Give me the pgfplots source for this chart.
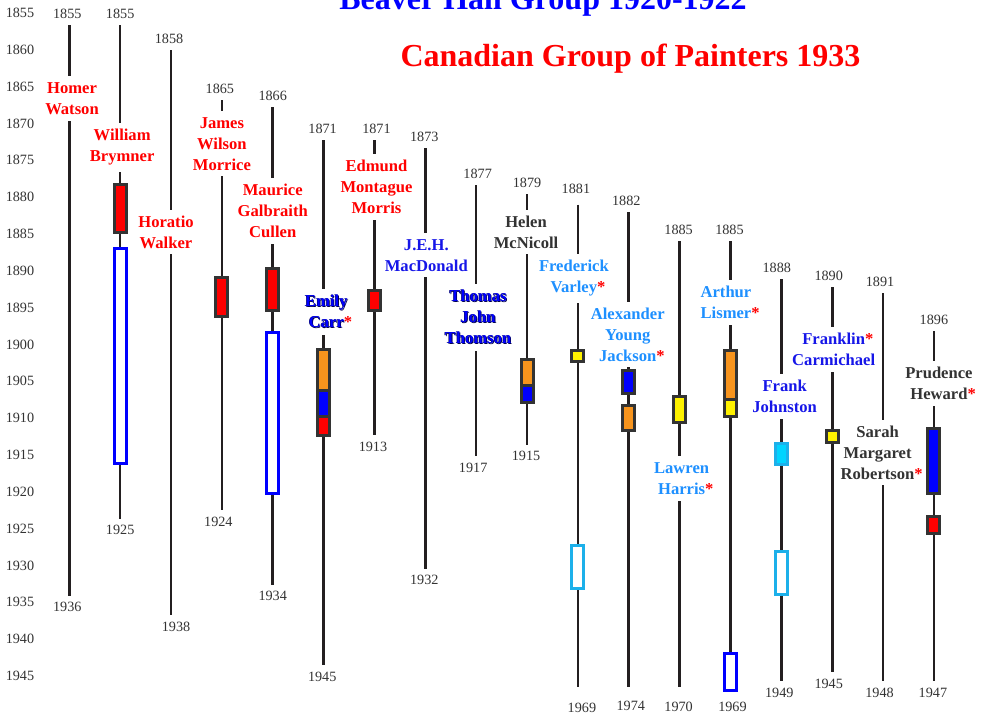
\documentclass[border=0pt]{standalone}
\usepackage{fontspec}
\setmainfont{Liberation Serif}
\usepackage{pgfplots}
\pgfplotsset{compat=1.18}

\definecolor{linecol}{HTML}{231F20}
\definecolor{boxline}{HTML}{333333}
\definecolor{cred}{HTML}{FF0000}
\definecolor{corange}{HTML}{F7941D}
\definecolor{cyellow}{HTML}{FFF200}
\definecolor{cblue}{HTML}{0000FF}
\definecolor{ccyan}{HTML}{1CB0EA}
\definecolor{cyanfill}{HTML}{00D4FF}
\definecolor{ltblue}{HTML}{1E90FF}
\definecolor{nameblue}{HTML}{1616E8}
\definecolor{namegray}{HTML}{333333}
\definecolor{navy}{HTML}{000050}
\definecolor{yeargray}{HTML}{333333}

\newcommand{\yearfont}{\fontsize{14.2}{16}\selectfont}
\newcommand{\namefont}{\fontsize{16.6}{21}\selectfont\bfseries}
\newcommand{\st}{\rlap{\textcolor{red}{*}}}
% blue word with a dark outline, set in one piece
\newcommand{\ol}[1]{\rlap{\kern0.8pt\raisebox{-0.8pt}{\textcolor{navy}{#1}}}\rlap{\kern-0.5pt\raisebox{0.5pt}{\textcolor{navy}{#1}}}\textcolor{cblue}{#1}}

% life line: index, birth, drawn end
\newcommand{\life}[3]{\addplot[draw=linecol, line width=2.6pt, line cap=butt, forget plot] coordinates {(#1,#2) (#1,#3)};}
% box: index, from, to, fill, draw
\newcommand{\bx}[5]{%
  \pgfmathsetmacro\xa{#1-0.118}%
  \pgfmathsetmacro\xb{#1+0.118}%
  \edef\tmp{\noexpand\addplot[fill=#4, draw=#5, line width=3pt, line join=miter, forget plot] coordinates {(\xa,#2) (\xb,#2) (\xb,#3) (\xa,#3)} -- cycle;}%
  \tmp}
% year label: index, position, xshift, text
\newcommand{\yl}[4]{\node[yearlab, xshift=#3pt] at (axis cs:#1,#2) {#4};}
% name label: index, position, xshift, colour, text
\newcommand{\nm}[5]{\node[namelab, xshift=#3pt, text=#4] at (axis cs:#1,#2) {#5};}

\tikzset{
  yearlab/.style={fill=white, inner xsep=1pt, inner ysep=6.5pt, font=\yearfont, text=yeargray, text height=9.6pt, text depth=0pt},
  namelab/.style={fill=white, inner xsep=1pt, inner ysep=6pt, align=center, font=\namefont},
}

\begin{document}
\begin{tikzpicture}
\begin{axis}[
  at={(0,0)}, anchor=south west,
  scale only axis, width=988pt, height=715pt,
  xmin=-1.3626, xmax=18.0633,
  ymin=1853.2353, ymax=1950.294, y dir=reverse,
  clip=false,
  axis line style={draw=none},
  xtick=\empty,
  ytick={1855,1860,...,1945},
  yticklabels={1855,1860,1865,1870,1875,1880,1885,1890,1895,1900,1905,1910,1915,1920,1925,1930,1935,1940,1945},
  major tick length=0pt,
  yticklabel style={anchor=center, xshift=20pt, font=\yearfont, text=yeargray},
]
% life lines (birth to death, cut at the bottom of the chart)
\life{0}{1855}{1936}
\life{1}{1855}{1925}
\life{2}{1858}{1938}
\life{3}{1865}{1924}
\life{4}{1866}{1934}
\life{5}{1871}{1945}
\life{6}{1871}{1913}
\life{7}{1873}{1932}
\life{8}{1877}{1917}
\life{9}{1879}{1915}
\life{10}{1881}{1946.45}
\life{11}{1882}{1946.45}
\life{12}{1885}{1946.45}
\life{13}{1885}{1946.45}
\life{14}{1888}{1946.45}
\life{15}{1890}{1945}
\life{16}{1891}{1946.45}
\life{17}{1896}{1946.45}
% boxes
\bx{1}{1878.32}{1884.84}{cred}{boxline}
\bx{1}{1887.01}{1916.15}{white}{cblue}
\bx{3}{1890.90}{1896.24}{cred}{boxline}
\bx{4}{1889.64}{1895.43}{cred}{boxline}
\bx{4}{1898.37}{1920.23}{white}{cblue}
\bx{5}{1900.72}{1906.31}{corange}{boxline}
\bx{5}{1906.31}{1909.80}{cblue}{boxline}
\bx{5}{1909.80}{1912.39}{cred}{boxline}
\bx{6}{1892.71}{1895.34}{cred}{boxline}
\bx{9}{1902.08}{1905.50}{corange}{boxline}
\bx{9}{1905.50}{1907.87}{cblue}{boxline}
\bx{10}{1900.81}{1902.35}{cyellow}{boxline}
\bx{10}{1927.28}{1933.12}{white}{ccyan}
\bx{11}{1903.53}{1906.65}{cblue}{boxline}
\bx{11}{1908.28}{1911.63}{corange}{boxline}
\bx{12}{1907.06}{1910.59}{cyellow}{boxline}
\bx{13}{1900.81}{1907.40}{corange}{boxline}
\bx{13}{1907.40}{1909.81}{cyellow}{boxline}
\bx{13}{1941.90}{1946.93}{white}{cblue}
\bx{14}{1913.40}{1916.29}{cyanfill}{ccyan}
\bx{14}{1928.10}{1933.94}{white}{ccyan}
\bx{15}{1911.67}{1913.30}{cyellow}{boxline}
\bx{17}{1911.44}{1920.23}{cblue}{boxline}
\bx{17}{1923.35}{1925.66}{cred}{boxline}
% birth years
\yl{0}{1855.04}{-2}{1855}
\yl{1}{1855.04}{0}{1855}
\yl{2}{1858.43}{-2}{1858}
\yl{3}{1865.22}{-2}{1865}
\yl{4}{1866.23}{0}{1866}
\yl{5}{1870.65}{-1}{1871}
\yl{6}{1870.65}{2}{1871}
\yl{7}{1871.79}{-1}{1873}
\yl{8}{1876.76}{1.5}{1877}
\yl{9}{1878.04}{0}{1879}
\yl{10}{1878.89}{-2}{1881}
\yl{11}{1880.52}{-2.5}{1882}
\yl{12}{1884.36}{-1}{1885}
\yl{13}{1884.36}{-1}{1885}
\yl{14}{1889.57}{-4.5}{1888}
\yl{15}{1890.70}{-3.5}{1890}
\yl{16}{1891.47}{-3}{1891}
\yl{17}{1896.58}{0}{1896}
% death years
\yl{0}{1935.63}{-2}{1936}
\yl{1}{1925.18}{0}{1925}
\yl{2}{1938.31}{5}{1938}
\yl{3}{1924.05}{-3.5}{1924}
\yl{4}{1934.14}{0}{1934}
\yl{5}{1945.09}{-1.4}{1945}
\yl{6}{1913.87}{-1.5}{1913}
\yl{7}{1931.97}{-1}{1932}
\yl{8}{1916.72}{-3}{1917}
\yl{9}{1915.14}{-1}{1915}
\yl{10}{1949.25}{4}{1969}
\yl{11}{1949.07}{2}{1974}
\yl{12}{1949.17}{-1}{1970}
\yl{13}{1949.17}{2}{1969}
\yl{14}{1947.27}{-2}{1949}
\yl{15}{1945.99}{-3.5}{1945}
\yl{16}{1947.27}{-3.5}{1948}
\yl{17}{1947.27}{-1}{1947}
% names
\nm{0}{1866.61}{2.7}{cred}{Homer\\Watson}
\nm{1}{1873.26}{2}{cred}{William\\Brymner}
\nm{2}{1884.73}{-5}{cred}{Horatio\\Walker}
\nm{3}{1872.76}{0}{cred}{James\\Wilson\\Morrice}
\nm{4}{1881.85}{0}{cred}{Maurice\\Galbraith\\Cullen}
\nm{5}{1895.55}{2.8}{cblue}{\ol{Emily}\\\ol{Carr}\st}
\nm{6}{1878.62}{2}{cred}{Edmund\\Montague\\Morris}
\nm{7}{1887.90}{1}{nameblue}{J.E.H.\\MacDonald}
\nm{8}{1896.27}{2}{cblue}{\ol{Thomas}\\\ol{John}\\\ol{Thomson}}
\nm{9}{1884.73}{-1}{namegray}{Helen\\McNicoll}
\nm{10}{1891.04}{-4}{ltblue}{Frederick\\Varley\st}
\nm{11}{1898.62}{-1}{ltblue}{Alexander\\Young\\Jackson\st}
\nm{12}{1918.19}{2}{ltblue}{Lawren\\Harris\st}
\nm{13}{1894.26}{-4.5}{ltblue}{Arthur\\Lismer\st}
\nm{14}{1907.08}{3.3}{nameblue}{Frank\\Johnston}
\nm{15}{1900.70}{1.5}{nameblue}{Franklin\st\\Carmichael}
\nm{16}{1914.66}{-5.5}{namegray}{Sarah\\Margaret\\Robertson\st}
\nm{17}{1905.27}{5}{namegray}{Prudence\\Heward\st}
\end{axis}
\node[anchor=base, font=\fontsize{32}{36}\selectfont\bfseries, text=cblue] at (543pt,705pt) {Beaver Hall Group 1920-1922};
\node[anchor=base, font=\fontsize{32}{36}\selectfont\bfseries, text=cred] at (630.5pt,648.3pt) {Canadian Group of Painters 1933};
\pgfresetboundingbox
\path[use as bounding box] (0,0) rectangle (988pt,715pt);
\end{tikzpicture}
\end{document}
